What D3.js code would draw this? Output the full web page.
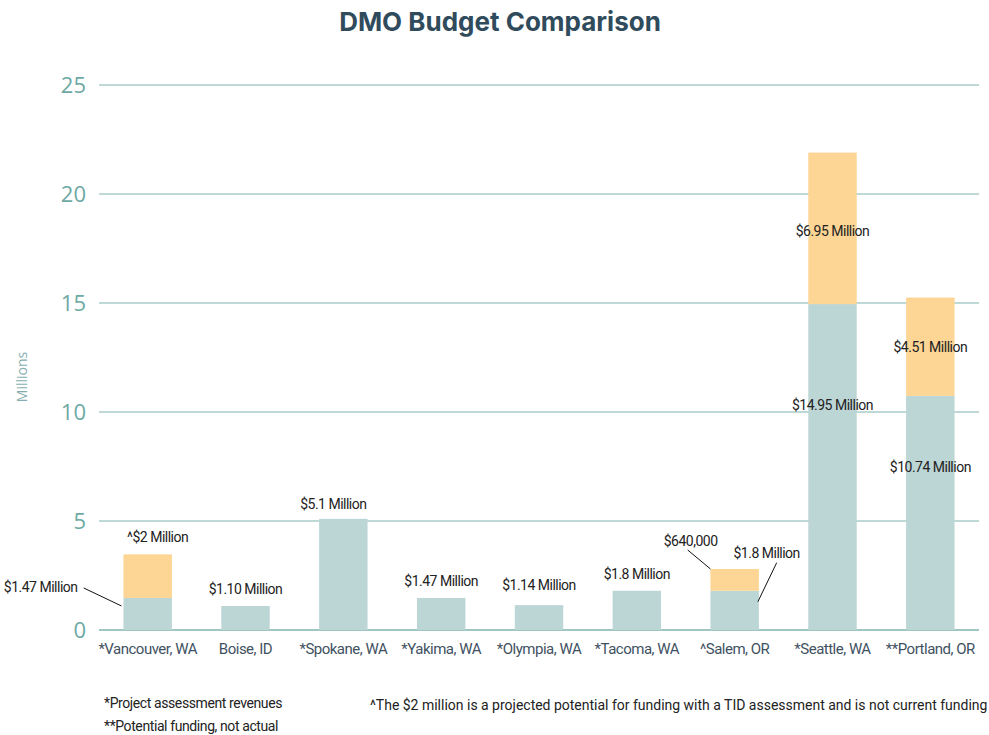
<!DOCTYPE html>
<html>
<head>
<meta charset="utf-8">
<script src="https://cdn.jsdelivr.net/npm/d3@7/dist/d3.min.js"></script>
<style>
  body { margin: 0; background: #fff; }
  svg { display: block; }
</style>
</head>
<body>
<div id="chart"></div>
<script>
// chart data (millions)
var categories = ['*Vancouver, WA', 'Boise, ID', '*Spokane, WA', '*Yakima, WA', '*Olympia, WA',
  '*Tacoma, WA', '^Salem, OR', '*Seattle, WA', '**Portland, OR'];
var baseValues = [1.47, 1.10, 5.1, 1.47, 1.14, 1.8, 1.8, 14.95, 10.74];
var extraValues = [2, 0, 0, 0, 0, 0, 1.0, 6.95, 4.51];
var baseLabels = ['$1.47 Million', '$1.10 Million', '$5.1 Million', '$1.47 Million', '$1.14 Million',
  '$1.8 Million', '$1.8 Million', '$14.95 Million', '$10.74 Million'];
var extraLabels = ['^$2 Million', '', '', '', '', '', '$640,000', '$6.95 Million', '$4.51 Million'];
var yTicks = [0, 5, 10, 15, 20, 25];

var width = 989, height = 735;
var margin = { left: 99, right: 10, top: 85, bottom: 105 };

var teal = '#bcd5d5', orange = '#fdd594', gridColor = '#7fb3ae',
  tickColor = '#6ea9a4', titleColor = '#2f4b5c', catColor = '#3f5262', noteColor = '#222';
var condensed = 'Roboto, "Liberation Sans Narrow", sans-serif';

var svg = d3.select('#chart').append('svg')
  .attr('width', width)
  .attr('height', height);

var x = d3.scaleBand()
  .domain(categories)
  .range([margin.left, width - margin.right])
  .paddingInner(0.505)
  .paddingOuter(0.25);

var y = d3.scaleLinear()
  .domain([0, 25])
  .range([height - margin.bottom, margin.top]);

// title
svg.append('text')
  .attr('x', 500).attr('y', 31)
  .attr('text-anchor', 'middle')
  .style('font-family', 'Inter, "Open Sans", sans-serif')
  .style('font-weight', 700)
  .style('font-size', '26px')
  .style('fill', titleColor)
  .text('DMO Budget Comparison');

// gridlines
svg.append('g').selectAll('line')
  .data(yTicks)
  .enter().append('line')
  .attr('x1', margin.left).attr('x2', width - margin.right)
  .attr('y1', function(d) { return y(d); })
  .attr('y2', function(d) { return y(d); })
  .attr('stroke', gridColor)
  .attr('stroke-width', function(d) { return d == 0 ? 1.5 : 1; });

// y tick labels
svg.append('g').selectAll('text')
  .data(yTicks)
  .enter().append('text')
  .attr('x', 86)
  .attr('y', function(d) { return y(d) + 8; })
  .attr('text-anchor', 'end')
  .style('font-family', '"Open Sans", sans-serif')
  .style('font-size', '22px')
  .style('fill', tickColor)
  .text(function(d) { return d; });

svg.append('text')
  .attr('transform', 'translate(27,' + 377 + ') rotate(-90)')
  .attr('text-anchor', 'middle')
  .style('font-family', '"Open Sans", sans-serif')
  .style('font-size', '14px')
  .style('fill', '#86aeb0')
  .text('Millions');

// bars
var bars = svg.append('g');
bars.selectAll('rect.base')
  .data(categories)
  .enter().append('rect')
  .attr('class', 'base')
  .attr('x', function(d) { return x(d); })
  .attr('width', x.bandwidth())
  .attr('y', function(d, i) { return y(baseValues[i]); })
  .attr('height', function(d, i) { return y(0) - y(baseValues[i]); })
  .attr('fill', teal);

bars.selectAll('rect.extra')
  .data(categories)
  .enter().append('rect')
  .attr('class', 'extra')
  .attr('x', function(d) { return x(d); })
  .attr('width', x.bandwidth())
  .attr('y', function(d, i) { return y(baseValues[i] + extraValues[i]); })
  .attr('height', function(d, i) { return y(baseValues[i]) - y(baseValues[i] + extraValues[i]); })
  .attr('fill', orange);

// category labels
svg.append('g').selectAll('text')
  .data(categories)
  .enter().append('text')
  .attr('x', function(d) { return x(d) + x.bandwidth() / 2; })
  .attr('y', 654)
  .attr('text-anchor', 'middle')
  .style('font-family', condensed)
  .style('font-size', '15px')
  .style('letter-spacing', '-0.5px')
  .style('fill', catColor)
  .text(function(d) { return d; });

// value labels: offsets from the bar centre / value position
var baseOffsets = [[-107, -11], [0, -17], [-10, -15], [0, -17], [0, -20], [0, -17], [32, -38], [0, 101], [0, 71]];
var extraOffsets = [[10, -17], [0, 0], [0, 0], [0, 0], [0, 0], [0, 0], [-44, -28], [0, 78], [0, 49]];
var cx = function(i) { return x(categories[i]) + x.bandwidth() / 2; };

var labels = svg.append('g')
  .style('font-family', condensed)
  .style('font-size', '14px')
  .style('letter-spacing', '-0.5px')
  .style('fill', noteColor)
  .attr('text-anchor', 'middle');

labels.selectAll('text.base')
  .data(baseLabels)
  .enter().append('text')
  .attr('x', function(d, i) { return cx(i) + baseOffsets[i][0]; })
  .attr('y', function(d, i) { return y(baseValues[i]) + baseOffsets[i][1] + 5; })
  .text(function(d) { return d; });

labels.selectAll('text.extra')
  .data(extraLabels)
  .enter().append('text')
  .attr('x', function(d, i) { return cx(i) + extraOffsets[i][0]; })
  .attr('y', function(d, i) { return y(baseValues[i] + extraValues[i]) + extraOffsets[i][1] + 5; })
  .text(function(d) { return d; });

// leader lines
var leaders = [
  [cx(0) - 64, y(baseValues[0]) - 10, x(categories[0]) - 2, y(baseValues[0]) + 8],
  [cx(6) - 47, y(baseValues[6] + extraValues[6]) - 19, x(categories[6]), y(baseValues[6] + extraValues[6])],
  [cx(6) + 42, y(baseValues[6]) - 28, x(categories[6]) + x.bandwidth() - 1, y(baseValues[6]) + 11]
];
svg.append('g').selectAll('line')
  .data(leaders)
  .enter().append('line')
  .attr('x1', function(d) { return d[0]; })
  .attr('y1', function(d) { return d[1]; })
  .attr('x2', function(d) { return d[2]; })
  .attr('y2', function(d) { return d[3]; })
  .attr('stroke', '#111')
  .attr('stroke-width', 1);

// footnotes
var notes = svg.append('g')
  .style('font-family', condensed)
  .style('font-size', '14px')
  .style('letter-spacing', '-0.4px')
  .style('fill', noteColor);
notes.append('text').attr('x', 104).attr('y', 708).text('*Project assessment revenues');
notes.append('text').attr('x', 104).attr('y', 731).text('**Potential funding, not actual');
notes.append('text').attr('x', 370).attr('y', 710)
  .attr('textLength', 617)
  .text('^The $2 million is a projected potential for funding with a TID assessment and is not current funding');
</script>
</body>
</html>
